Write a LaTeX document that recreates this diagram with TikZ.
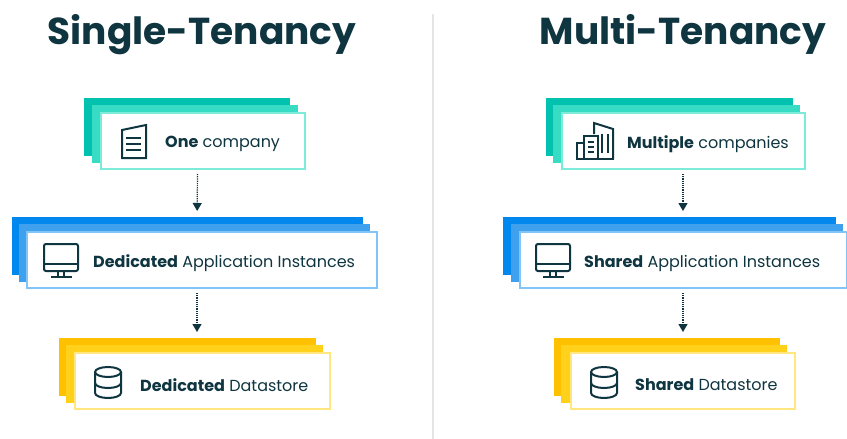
\documentclass[tikz,border=0pt]{standalone}
\usepackage{fontspec}
\setmainfont{Poppins}
\usetikzlibrary{arrows.meta}
\definecolor{ink}{HTML}{0F3540}
\definecolor{tealA}{HTML}{00C2AE}
\definecolor{tealB}{HTML}{38DBC3}
\definecolor{tealC}{HTML}{7DEBD9}
\definecolor{blueA}{HTML}{0088EE}
\definecolor{blueB}{HTML}{3FA0EE}
\definecolor{blueC}{HTML}{80C4F8}
\definecolor{yellowA}{HTML}{FFC000}
\definecolor{yellowB}{HTML}{FFD11A}
\definecolor{yellowC}{HTML}{FFE680}
\begin{document}
\begin{tikzpicture}[x=1pt,y=-1pt,
	titletext/.style={text=ink,font=\fontsize{37.5}{44}\selectfont\bfseries},
	boxtext/.style={text=ink,anchor=west,inner sep=0pt,font=\fontsize{16}{18}\selectfont},
	frontbox/.style={draw=#1,fill=white,line width=2pt,minimum height=56pt,inner sep=0pt,outer sep=0pt},
	flow/.style={densely dotted,ink,line width=1.2pt,-{Triangle[length=8pt,width=9pt]},shorten <=5pt,shorten >=21pt},
	icon/.style={ink,line width=2pt,line join=miter}]

	%%Location
	\useasboundingbox (0,0) rectangle (847,439);
	\fill[white] (0,0) rectangle (847,439);

	%%Titles
	\node[titletext] (single) at (202,34.5) {Single-Tenancy};
	\node[titletext] (multi) at (683,34.5) {Multi-Tenancy};
	\draw[line width=2pt,black!10] (433,14)--(433,439);

	%%Single stacks
	\fill[tealA] (84,98) rectangle (290,156);
	\fill[tealB] (92,105) rectangle (298,163);
	\fill[blueA] (12,217) rectangle (363,275);
	\fill[blueB] (19,224) rectangle (370,282);
	\fill[yellowA] (59,338) rectangle (316,396);
	\fill[yellowB] (66,345) rectangle (323,403);

	%%Multi stacks
	\fill[tealA] (546,98) rectangle (793,156);
	\fill[tealB] (553,105) rectangle (800,163);
	\fill[blueA] (503,217) rectangle (836,275);
	\fill[blueB] (511,224) rectangle (843,282);
	\fill[yellowA] (554,338) rectangle (780,396);
	\fill[yellowB] (561,345) rectangle (787,403);

	%%Front boxes
	\node[frontbox=tealC,minimum width=204pt] (onebox) at (202.5,141) {};
	\node[frontbox=blueC,minimum width=350pt] (dedappbox) at (202,260) {};
	\node[frontbox=yellowC,minimum width=255pt] (dedstorebox) at (202,381) {};
	\node[frontbox=tealC,minimum width=243pt] (multibox) at (683,141) {};
	\node[frontbox=blueC,minimum width=327pt] (sharedappbox) at (683,260) {};
	\node[frontbox=yellowC,minimum width=224pt] (sharedstorebox) at (682.5,381) {};

	%%Labels
	\node[boxtext] (onetext) at (165,144) {\textbf{One} company};
	\node[boxtext] (dedapptext) at (93,263) {\textbf{Dedicated} Application Instances};
	\node[boxtext] (dedstoretext) at (140,385) {\textbf{Dedicated} Datastore};
	\node[boxtext] (multitext) at (627,144) {\textbf{Multiple} companies};
	\node[boxtext] (sharedapptext) at (584,263) {\textbf{Shared} Application Instances};
	\node[boxtext] (sharedstoretext) at (635,385) {\textbf{Shared} Datastore};

	%%Arrows
	\draw[flow] ([xshift=-5pt]onebox.south) -- ([xshift=-5pt]dedappbox.north);
	\draw[flow] ([xshift=-5pt]dedappbox.south) -- ([xshift=-5pt]dedstorebox.north);
	\draw[flow] (multibox.south) -- (sharedappbox.north);
	\draw[flow] (sharedappbox.south) -- ([xshift=.5pt]sharedstorebox.north);

	%%Document icon
	\draw[icon] (122,130)--(146,125)--(146,158)--(122,158)--cycle;
	\draw[icon] (126,138)--(141,138);
	\draw[icon] (126,144)--(141,144);
	\draw[icon] (126,150)--(141,150);

	%%Buildings icon
	\draw[icon] (577,159)--(577,143)--(584,143);
	\draw[icon] (584,159)--(584,136)--(598,136)--(598,159);
	\draw[icon] (594,134)--(594,123)--(613,129)--(613,159);
	\draw[icon] (576,159)--(614,159);
	\draw[icon] (602,134)--(602,153);
	\draw[icon] (608,134)--(608,153);
	\draw[icon] (588,142)--(594,142);
	\draw[icon] (588,147)--(594,147);
	\draw[icon] (588,152)--(594,152);

	%%Monitor icons
	\foreach \dx in {0,492} {
		\begin{scope}[xshift=\dx pt]
		\draw[icon,rounded corners=2pt] (44,244) rectangle (78,271);
		\draw[icon] (44,264)--(78,264);
		\draw[icon] (58,271)--(58,277);
		\draw[icon] (64,271)--(64,277);
		\draw[icon] (51,277)--(72,277);
		\end{scope}
	}

	%%Datastore icons
	\foreach \dx in {0,496} {
		\begin{scope}[xshift=\dx pt]
		\draw[icon] (108,372) ellipse (13pt and 5pt);
		\draw[icon] (95,372)--(95,393) arc[start angle=180,end angle=360,x radius=13,y radius=-5]--(121,372);
		\draw[icon] (95,383) arc[start angle=180,end angle=360,x radius=13,y radius=-5];
		\end{scope}
	}
\end{tikzpicture}
\end{document}
